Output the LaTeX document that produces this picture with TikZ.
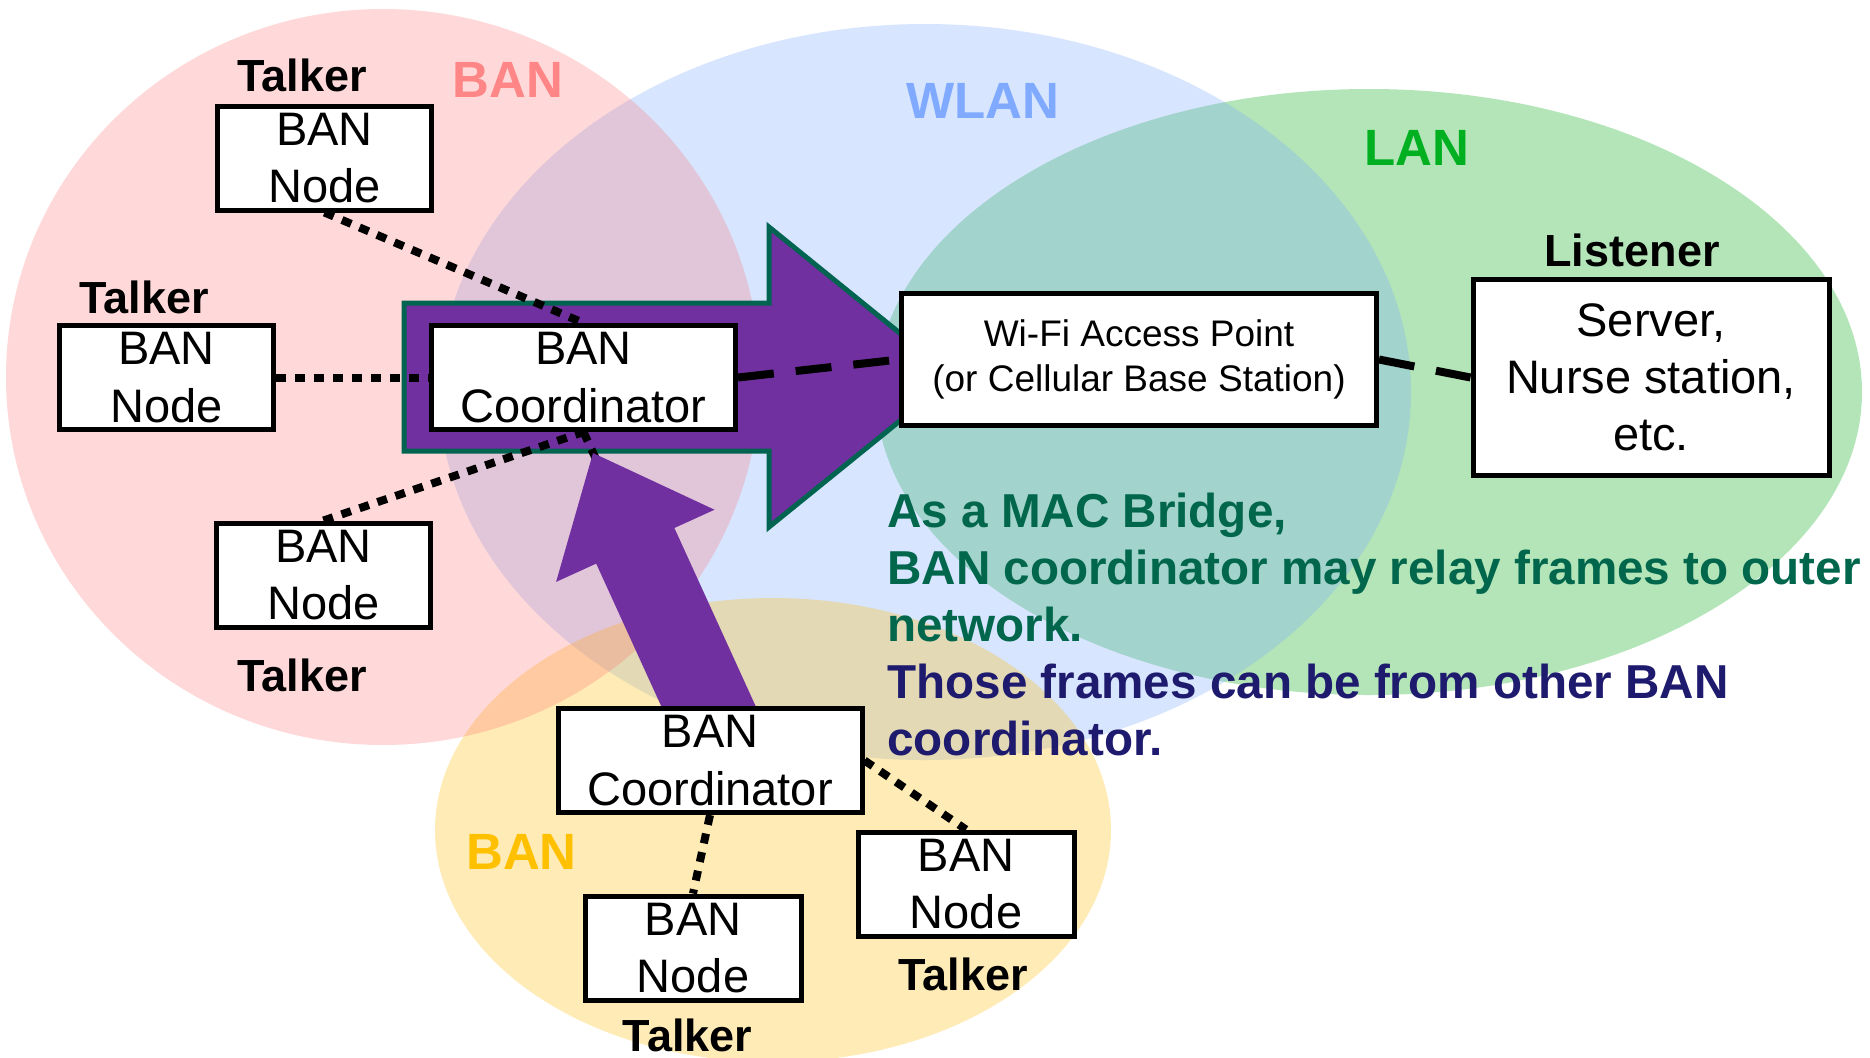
\documentclass[tikz,border=0pt]{standalone}
\usepackage{fontspec}
\setmainfont{Liberation Sans}
\pgfdeclarelayer{areas}
\pgfdeclarelayer{links}
\pgfsetlayers{areas,links,main}
\definecolor{banpink}{RGB}{255,107,107}
\definecolor{wlanblue}{RGB}{125,172,252}
\definecolor{langreen}{RGB}{5,172,22}
\definecolor{banyellow}{RGB}{255,190,10}
\definecolor{arrowpurple}{RGB}{112,48,160}
\definecolor{arrowedge}{RGB}{0,100,80}
\definecolor{labpink}{RGB}{255,134,134}
\definecolor{labblue}{RGB}{128,170,255}
\definecolor{labgreen}{RGB}{0,176,32}
\definecolor{labyellow}{RGB}{255,192,0}
\definecolor{paragreen}{RGB}{0,102,76}
\definecolor{paranavy}{RGB}{30,26,110}
\begin{document}
\begin{tikzpicture}[x=0.5pt,y=-0.5pt,
  box/.style={draw=black,line width=2.5pt,fill=white,inner sep=0pt,align=center,
    font=\fontsize{23.5}{28.75}\selectfont},
  role/.style={font=\fontsize{22.5}{27}\selectfont\bfseries,anchor=base,inner sep=0pt},
  netlabel/.style={font=\fontsize{25.5}{30}\selectfont\bfseries,anchor=base,inner sep=0pt},
  dotlink/.style={line width=4pt,dash pattern=on 5pt off 4.5pt,black},
  dashlink/.style={line width=4pt,dash pattern=on 18pt off 11pt,black},
  area/.style={fill opacity=0.3},
  para/.style={font=\fontsize{23.8}{28.5}\selectfont\bfseries,anchor=base west,inner sep=0pt},
]
\useasboundingbox (0,0) rectangle (1870,1057);
\clip (0,0) rectangle (1870,1057);

% nodes
\node[box,minimum width=107pt,minimum height=52pt] (n1) at (324.5,158) {BAN\\Node};
\node[box,minimum width=107pt,minimum height=52pt] (n2) at (166.5,377.5) {BAN\\Node};
\node[box,minimum width=152pt,minimum height=52pt] (coord) at (583.5,377.5) {BAN\\Coordinator};
\node[box,minimum width=107pt,minimum height=52pt] (n4) at (323.5,575) {BAN\\Node};
\node[box,minimum width=237.5pt,minimum height=66pt,font=\fontsize{18.5}{22.8}\selectfont] (wifi) at (1139,359.5) {Wi-Fi Access Point\\(or Cellular Base Station)};
\node[box,minimum width=178pt,minimum height=98pt,font=\fontsize{23.5}{28.5}\selectfont] (server) at (1651,377.5) {Server,\\Nurse station,\\etc.};
\node[box,minimum width=152pt,minimum height=52pt] (lowcoord) at (710,760.5) {BAN\\Coordinator};
\node[box,minimum width=108pt,minimum height=52pt] (n8) at (693,948) {BAN\\Node};
\node[box,minimum width=108pt,minimum height=52pt] (n9) at (966,884) {BAN\\Node};

% role labels
\node[role] (t1) at (302,91) {Talker};
\node[role] (t2) at (144,313) {Talker};
\node[role] (t3) at (302,691) {Talker};
\node[role] (t4) at (687.5,1051) {Talker};
\node[role] (t5) at (963,990) {Talker};
\node[role] (ls) at (1632,266) {Listener};

% network labels
\node[netlabel,labpink] (lbanA) at (508,97) {BAN};
\node[netlabel,labblue] (lwlan) at (983,118) {WLAN};
\node[netlabel,labgreen] (llan) at (1417,165) {LAN};
\node[netlabel,labyellow] (lbanB) at (521.5,869) {BAN};

% paragraph
\node[para,paragreen] (p1) at (887,527) {As a MAC Bridge,};
\node[para,paragreen] (p2) at (887,584) {BAN coordinator may relay frames to outer};
\node[para,paragreen] (p3) at (887,641) {network.};
\node[para,paranavy] (p4) at (887,698) {Those frames can be from other BAN};
\node[para,paranavy] (p5) at (887,755) {coordinator.};

\begin{pgfonlayer}{areas}
  \fill[white] (0,0) rectangle (1870,1057);
  \fill[langreen,area] (1369,392) ellipse [x radius=246.5pt,y radius=151.5pt];
  \fill[wlanblue,area] (925,392) ellipse [x radius=243pt,y radius=184pt];
  \fill[banyellow,area] (773,830) ellipse [x radius=169pt,y radius=116pt];
  \fill[banpink,fill opacity=0.25] (383,377) ellipse [x radius=188.5pt,y radius=184pt];
  \filldraw[fill=arrowpurple,draw=arrowedge,line width=2.5pt,line join=miter]
    (404,303) -- (769,303) -- (769,227) -- (954,377) -- (769,527) -- (769,451) -- (404,451) -- cycle;
\end{pgfonlayer}

\begin{pgfonlayer}{links}
  \draw[dotlink] (n1.south) -- (coord.north);
  \draw[dotlink] (n2.east) -- (coord.west);
  \draw[dotlink] (n4.north) -- (coord.south);
  \draw[dotlink] (coord.south) -- (lowcoord.north);
  \draw[dotlink] (lowcoord.south) -- (n8.north);
  \draw[dotlink] (lowcoord.east) -- (n9.north);
  \draw[dashlink] (coord.east) -- (wifi.west);
  \draw[dashlink] (wifi.east) -- (server.west);
  \fill[arrowpurple] (593,453) -- (714.5,509.7) -- (674.4,528) -- (756.6,708.2)
    -- (678.4,743.8) -- (596.2,563.6) -- (556.1,581.9) -- cycle;
\end{pgfonlayer}
\end{tikzpicture}
\end{document}
